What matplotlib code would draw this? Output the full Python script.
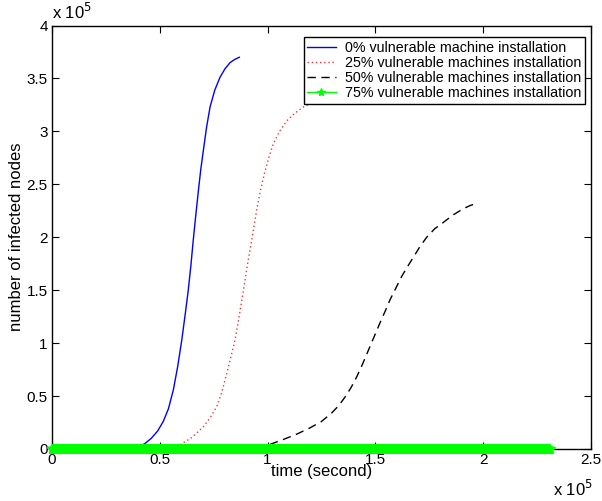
import numpy as np
import matplotlib
matplotlib.use("Agg")
import matplotlib.pyplot as plt
from matplotlib.ticker import FuncFormatter

plt.rcParams['font.family'] = ['Liberation Sans', 'DejaVu Sans']

SCALE = 1e5

# values, in units of 1e5
blue_t = [0.30, 0.36, 0.40, 0.43, 0.46, 0.49, 0.516, 0.54, 0.563, 0.583,
          0.602, 0.617, 0.632, 0.644, 0.655, 0.667, 0.679, 0.690, 0.702, 0.717,
          0.733, 0.755, 0.779, 0.802, 0.826, 0.848, 0.869]
blue_n = [0.0, 0.005, 0.02, 0.05, 0.10, 0.17, 0.26, 0.38, 0.56, 0.78,
          1.03, 1.26, 1.50, 1.73, 1.97, 2.21, 2.44, 2.64, 2.82, 3.04,
          3.23, 3.39, 3.51, 3.59, 3.65, 3.68, 3.70]

red_t = [0.50, 0.56, 0.594, 0.65, 0.702, 0.735, 0.764, 0.788, 0.810, 0.830,
         0.849, 0.862, 0.875, 0.888, 0.900, 0.913, 0.926, 0.939, 0.952, 0.968,
         0.985, 1.005, 1.026, 1.055, 1.089, 1.125, 1.166, 1.205, 1.26, 1.33]
red_n = [0.0, 0.015, 0.04, 0.11, 0.21, 0.30, 0.40, 0.54, 0.71, 0.87,
         1.03, 1.18, 1.34, 1.50, 1.66, 1.82, 1.97, 2.13, 2.29, 2.45,
         2.60, 2.75, 2.88, 3.00, 3.10, 3.17, 3.23, 3.27, 3.33, 3.38]

black_t = [0.95, 0.98, 1.02, 1.073, 1.135, 1.197, 1.25, 1.297, 1.33, 1.359,
           1.387, 1.413, 1.440, 1.467, 1.494, 1.521, 1.545, 1.568, 1.595, 1.622,
           1.648, 1.676, 1.706, 1.738, 1.775, 1.815, 1.860, 1.908, 1.940, 1.970]
black_n = [0.0, 0.02, 0.05, 0.09, 0.14, 0.20, 0.26, 0.34, 0.41, 0.49,
           0.58, 0.68, 0.80, 0.93, 1.06, 1.19, 1.30, 1.41, 1.52, 1.63,
           1.72, 1.81, 1.91, 2.00, 2.08, 2.14, 2.21, 2.27, 2.30, 2.32]

green_t = np.arange(0, 2.31, 0.002)
green_n = np.zeros(len(green_t))

labels = ['0% vulnerable machine installation',
          '25% vulnerable machines installation',
          '50% vulnerable machines installation',
          '75% vulnerable machines installation']

fig = plt.figure(figsize=(6.02, 5.01), dpi=100)
ax = fig.add_axes([0.0864, 0.1038, 0.8953, 0.8453])

ax.plot(np.array(blue_t) * SCALE, np.array(blue_n) * SCALE, color='blue', lw=1.0, label=labels[0])
ax.plot(np.array(red_t) * SCALE, np.array(red_n) * SCALE, color='#ff3030', lw=1.0, ls=(0, (1, 2)), label=labels[1])
ax.plot(np.array(black_t) * SCALE, np.array(black_n) * SCALE, color='black', lw=1.0, ls=(0, (6, 4)), label=labels[2])
ax.plot(green_t * SCALE, green_n * SCALE, color='#00ff00', lw=1.0, marker='*', ms=7, mew=1.0,
        label=labels[3], clip_on=False, zorder=5)

ax.set_xlim(0, 2.5 * SCALE)
ax.set_ylim(0, 4 * SCALE)
ax.set_xticks(np.arange(0, 2.51, 0.5) * SCALE)
ax.set_yticks(np.arange(0, 4.01, 0.5) * SCALE)
fmt = FuncFormatter(lambda v, p: ('%g' % (v / SCALE)))
ax.xaxis.set_major_formatter(fmt)
ax.yaxis.set_major_formatter(fmt)
ax.tick_params(direction='in', length=5, top=True, right=True, labelsize=11, width=0.8, pad=3)
for s in ax.spines.values():
    s.set_linewidth(1.0)

ax.set_xlabel('time (second)', fontsize=12, va='center')
ax.set_ylabel('number of infected nodes', fontsize=12, va='center')
ax.xaxis.set_label_coords(0.5, -0.054)
ax.yaxis.set_label_coords(-0.065, 0.5)

fig.text(0.0864, 0.9615, r'x 10$^{5}$', fontsize=12, ha='left', va='baseline')
fig.text(0.918, 0.01, r'x 10$^{5}$', fontsize=12, ha='left', va='baseline')

leg = ax.legend(loc='upper right', bbox_to_anchor=(0.989, 0.973), borderaxespad=0,
                fontsize=10.3, frameon=True, fancybox=False,
                edgecolor='black', framealpha=1, borderpad=0.25, labelspacing=0.08,
                handlelength=2.0, handletextpad=0.65, markerscale=0.8)
leg.get_frame().set_linewidth(1.0)

fig.savefig('out.png', dpi=100)
